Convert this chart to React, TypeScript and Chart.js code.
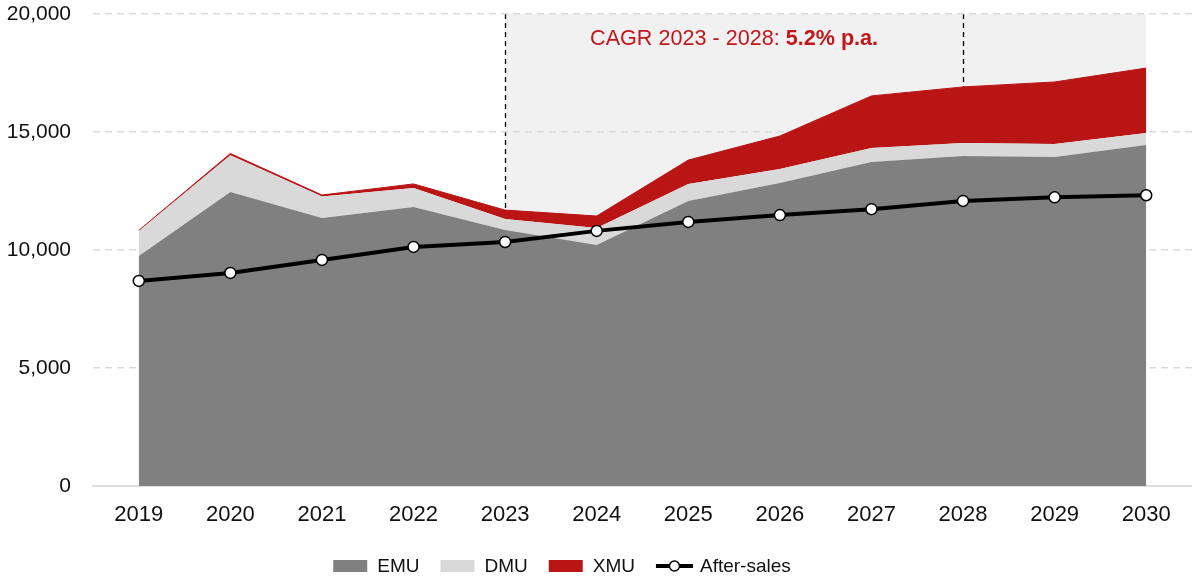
import React, { useEffect, useRef } from "react";
import { Chart, registerables } from "chart.js";

Chart.register(...registerables);

const years = ["2019", "2020", "2021", "2022", "2023", "2024", "2025", "2026", "2027", "2028", "2029", "2030"];
const emu = [9750, 12460, 11360, 11820, 10850, 10210, 12080, 12840, 13730, 13980, 13940, 14450];
const dmu = [1050, 1560, 910, 810, 460, 720, 720, 590, 590, 550, 550, 510];
const xmu = [30, 70, 60, 170, 380, 510, 1010, 1400, 2210, 2380, 2630, 2750];
const afterSales = [8690, 9030, 9580, 10130, 10340, 10810, 11190, 11480, 11730, 12080, 12230, 12320];

const yTicks = [0, 5000, 10000, 15000, 20000];
const cagrStart = "2023";
const cagrEnd = "2028";
const shadeEnd = "2030";
const cagrLabel = "CAGR 2023 - 2028: ";
const cagrValue = "5.2% p.a.";

const FONT = "'Liberation Sans', Arial, Helvetica, sans-serif";
const C_EMU = "#808080";
const C_DMU = "#d9d9d9";
const C_XMU = "#ba1515";
const C_TEXT_RED = "#c0171b";

const legendItems = [
  { label: "EMU", color: C_EMU, kind: "box" },
  { label: "DMU", color: C_DMU, kind: "box" },
  { label: "XMU", color: C_XMU, kind: "box" },
  { label: "After-sales", color: "#000", kind: "line" },
];

const decorPlugin = {
  id: "decor",
  beforeDraw(chart: any) {
    const { ctx, scales } = chart;
    const x = scales.x;
    const y = scales.y;
    const x0 = x.getPixelForValue(years.indexOf(cagrStart));
    const x1 = x.getPixelForValue(years.indexOf(shadeEnd));
    const yTop = y.getPixelForValue(20000);
    const yBot = y.getPixelForValue(0);
    ctx.save();
    ctx.fillStyle = "#f1f1f1";
    ctx.fillRect(x0, yTop, x1 - x0, yBot - yTop);
    ctx.strokeStyle = "#000";
    ctx.lineWidth = 1.3;
    ctx.setLineDash([5, 4]);
    [cagrStart, cagrEnd].forEach((yr) => {
      const px = Math.round(x.getPixelForValue(years.indexOf(yr))) + 0.5;
      ctx.beginPath();
      ctx.moveTo(px, yTop);
      ctx.lineTo(px, yBot);
      ctx.stroke();
    });
    ctx.restore();
  },
  afterDraw(chart: any) {
    const { ctx, scales } = chart;
    const x = scales.x;
    const xa = x.getPixelForValue(years.indexOf(cagrStart));
    const xb = x.getPixelForValue(years.indexOf(cagrEnd));
    const cx = (xa + xb) / 2;
    ctx.save();
    ctx.textBaseline = "alphabetic";
    ctx.font = `21.6px ${FONT}`;
    const w1 = ctx.measureText(cagrLabel).width;
    ctx.font = `bold 21.6px ${FONT}`;
    const w2 = ctx.measureText(cagrValue).width;
    const start = cx - (w1 + w2) / 2;
    ctx.fillStyle = C_TEXT_RED;
    ctx.font = `21.6px ${FONT}`;
    ctx.fillText(cagrLabel, start, 45);
    ctx.font = `bold 21.6px ${FONT}`;
    ctx.fillText(cagrValue, start + w1, 45);

    // legend
    const ly = 566;
    ctx.font = `19px ${FONT}`;
    ctx.textBaseline = "middle";
    const gap = 21;
    const widths = legendItems.map((it) =>
      (it.kind === "box" ? 34 + 10 : 37 + 7) + ctx.measureText(it.label).width
    );
    const total = widths.reduce((a, b) => a + b, 0) + gap * (legendItems.length - 1);
    let lx = 562 - total / 2;
    legendItems.forEach((it, i) => {
      const startX = lx;
      if (it.kind === "box") {
        ctx.fillStyle = it.color;
        ctx.fillRect(lx, ly - 6, 34, 12);
        lx += 34 + 10;
      } else {
        ctx.strokeStyle = "#000";
        ctx.lineWidth = 4;
        ctx.beginPath();
        ctx.moveTo(lx, ly);
        ctx.lineTo(lx + 37, ly);
        ctx.stroke();
        ctx.beginPath();
        ctx.arc(lx + 18.5, ly, 5, 0, Math.PI * 2);
        ctx.fillStyle = "#fff";
        ctx.fill();
        ctx.lineWidth = 1.5;
        ctx.stroke();
        lx += 37 + 7;
      }
      ctx.fillStyle = "#111";
      ctx.fillText(it.label, lx, ly + 1);
      lx = startX + widths[i] + gap;
    });
    ctx.restore();
  },
};

export default function App() {
  const ref = useRef<HTMLCanvasElement | null>(null);
  useEffect(() => {
    document.body.style.margin = "0";
    const canvas = ref.current;
    if (!canvas) return;
    const chart = new Chart(canvas, {
      type: "line",
      data: {
        labels: years,
        datasets: [
          {
            label: "EMU",
            data: emu,
            backgroundColor: C_EMU,
            borderColor: C_EMU,
            borderWidth: 0,
            pointRadius: 0,
            fill: "origin",
            stack: "units",
            tension: 0,
          },
          {
            label: "DMU",
            data: dmu,
            backgroundColor: C_DMU,
            borderColor: C_DMU,
            borderWidth: 0,
            pointRadius: 0,
            fill: "-1",
            stack: "units",
            tension: 0,
          },
          {
            label: "XMU",
            data: xmu,
            backgroundColor: C_XMU,
            borderColor: C_XMU,
            borderWidth: 1,
            pointRadius: 0,
            fill: "-1",
            stack: "units",
            tension: 0,
          },
          {
            label: "After-sales",
            data: afterSales,
            borderColor: "#000",
            backgroundColor: "#fff",
            borderWidth: 4,
            pointRadius: 5.5,
            pointBorderWidth: 1.5,
            pointBorderColor: "#000",
            pointBackgroundColor: "#fff",
            fill: false,
            stack: "aftersales",
            order: -1,
            tension: 0,
          },
        ],
      },
      options: {
        animation: false,
        responsive: false,
        maintainAspectRatio: false,
        layout: { autoPadding: false, padding: { left: 0, right: 0, top: 0, bottom: 0 } },
        plugins: {
          legend: { display: false },
          tooltip: { enabled: false },
        },
        scales: {
          x: {
            offset: true,
            grid: { display: false, drawTicks: false },
            border: { display: true, color: "#dedede", width: 2 },
            ticks: {
              color: "#111",
              font: { family: FONT, size: 22 },
              padding: 16,
              maxRotation: 0,
            },
            afterFit: (s: any) => {
              s.height = 92;
              s.paddingLeft = 0;
              s.paddingRight = 0;
            },
          },
          y: {
            stacked: true,
            min: 0,
            max: 20000,
            afterBuildTicks: (s: any) => {
              s.ticks = yTicks.map((v) => ({ value: v }));
            },
            grid: { color: "#dcdcdc", lineWidth: 1.5, drawTicks: false },
            border: { display: false, dash: [7, 5] },
            ticks: {
              color: "#111",
              font: { family: FONT, size: 21 },
              padding: 22,
              callback: (v: any) => Number(v).toLocaleString("en-US"),
            },
            afterFit: (s: any) => {
              s.width = 93;
              s.paddingTop = 14;
              s.paddingBottom = 0;
            },
          },
        },
      },
      plugins: [decorPlugin],
    });
    return () => chart.destroy();
  }, []);
  return (
    <div style={{ width: 1192, height: 578, position: "relative" }}>
      <canvas ref={ref} width={1192} height={578} style={{ display: "block" }} />
    </div>
  );
}
